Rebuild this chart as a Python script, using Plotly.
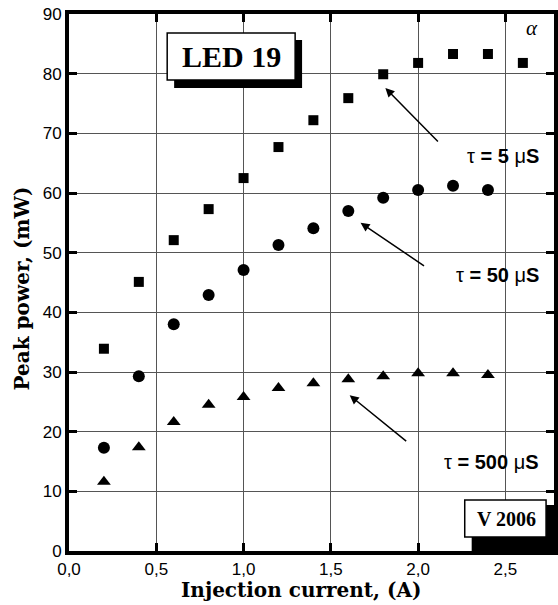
import plotly.graph_objects as go

current = [0.2, 0.4, 0.6, 0.8, 1.0, 1.2, 1.4, 1.6, 1.8, 2.0, 2.2, 2.4, 2.6]
power_5us = [33.9, 45.1, 52.1, 57.3, 62.5, 67.7, 72.2, 75.9, 79.9, 81.8, 83.3, 83.3, 81.8]
current_b = [0.2, 0.4, 0.6, 0.8, 1.0, 1.2, 1.4, 1.6, 1.8, 2.0, 2.2, 2.4]
power_50us = [17.3, 29.3, 38.0, 42.9, 47.1, 51.3, 54.1, 57.0, 59.2, 60.5, 61.2, 60.5]
power_500us = [11.6, 17.4, 21.6, 24.5, 25.8, 27.3, 28.1, 28.8, 29.3, 29.8, 29.8, 29.5]

W, H = 558, 605
L, T, B, R = 69, 14, 54, 0
PW, PH = W - L - R, H - T - B


def px(x):
    return (x - L) / PW


def py(y):
    return (H - B - y) / PH


fig = go.Figure()
fig.add_trace(go.Scatter(x=current, y=power_5us, mode="markers",
                         marker=dict(symbol="square", size=10, color="black"),
                         showlegend=False))
fig.add_trace(go.Scatter(x=current_b, y=power_50us, mode="markers",
                         marker=dict(symbol="circle", size=12, color="black"),
                         showlegend=False))
fig.add_trace(go.Scatter(x=current_b, y=power_500us, mode="markers",
                         marker=dict(symbol="triangle-up", size=12, color="black"),
                         showlegend=False))

axis_common = dict(
    showline=True, linecolor="black", linewidth=4, mirror="ticks",
    ticks="inside", ticklen=8, tickwidth=3, tickcolor="black",
    showgrid=True, gridcolor="#555555", gridwidth=1,
    zeroline=False,
    tickfont=dict(family="Liberation Sans, Arial", size=17, color="black"),
)

fig.update_xaxes(range=[0, PW / 176.0], dtick=0.5, tick0=0, tickformat=".1f", **axis_common)
fig.update_yaxes(range=[0, 90], dtick=10, tick0=0, **axis_common)

shapes = []
# LED 19 box with shadow
shapes.append(dict(type="rect", xref="paper", yref="paper", layer="above",
                   x0=px(175), x1=px(304), y0=py(88), y1=py(40),
                   fillcolor="black", line=dict(width=0)))
shapes.append(dict(type="rect", xref="paper", yref="paper", layer="above",
                   x0=px(168), x1=px(297), y0=py(80), y1=py(33),
                   fillcolor="white", line=dict(color="black", width=1.5)))
# V 2006 box with shadow
shapes.append(dict(type="rect", xref="paper", yref="paper", layer="above",
                   x0=px(475), x1=px(560), y0=py(551), y1=py(505),
                   fillcolor="black", line=dict(width=0)))
shapes.append(dict(type="rect", xref="paper", yref="paper", layer="above",
                   x0=px(468), x1=px(550), y0=py(537), y1=py(500),
                   fillcolor="white", line=dict(color="black", width=1.5)))
fig.update_layout(shapes=shapes)

serif = "Liberation Serif, Times New Roman, serif"
wserif = "DejaVu Serif, serif"
sans = "Liberation Sans, Arial, sans-serif"
C = dict(xanchor="center", yanchor="middle", showarrow=False, xref="paper", yref="paper")
ann = []
ann.append(dict(x=px(233), y=py(57), text="<b>LED 19</b>",
                font=dict(family=serif, size=30, color="black"), **C))
ann.append(dict(x=px(510), y=py(519), text="<b>V 2006</b>",
                font=dict(family=serif, size=20, color="black"), **C))
ann.append(dict(x=px(536), y=py(28), text="<i>α</i>",
                font=dict(family=serif, size=21, color="black"), **C))

labels = [
    ("τ <b>= 5 </b>μ<b>S</b>", 156, 1.8125, 77.6, 54, 55),
    ("τ <b>= 50 </b>μ<b>S</b>", 275, 1.670, 55.0, 65, 44),
    ("τ <b>= 500 </b>μ<b>S</b>", 462, 1.608, 26.1, 58, 47),
]
for text, ty, ax_x, ax_y, dx, dy in labels:
    ann.append(dict(x=px(545), y=py(ty), text=text, xanchor="right", yanchor="middle",
                    showarrow=False, xref="paper", yref="paper",
                    font=dict(family=sans, size=20, color="black")))
    ann.append(dict(x=ax_x, y=ax_y, xref="x", yref="y", text="", showarrow=True,
                    ax=dx, ay=dy, arrowhead=2, arrowsize=1.2, arrowwidth=1.5,
                    arrowcolor="black"))

ann.append(dict(x=px(303), y=py(590),
                text="<b>Injection current, (A)</b>",
                font=dict(family=wserif, size=20, color="black"), **C))
ann.append(dict(x=px(22), y=py(288),
                text="<b>Peak power, (mW)</b>", textangle=-90,
                font=dict(family=wserif, size=20, color="black"), **C))
fig.update_layout(annotations=ann)

fig.update_layout(
    width=W, height=H,
    margin=dict(l=L, r=R, t=T, b=B, pad=0),
    paper_bgcolor="white", plot_bgcolor="white",
    separators=", ",
    showlegend=False,
)

fig.write_html("out.html")
